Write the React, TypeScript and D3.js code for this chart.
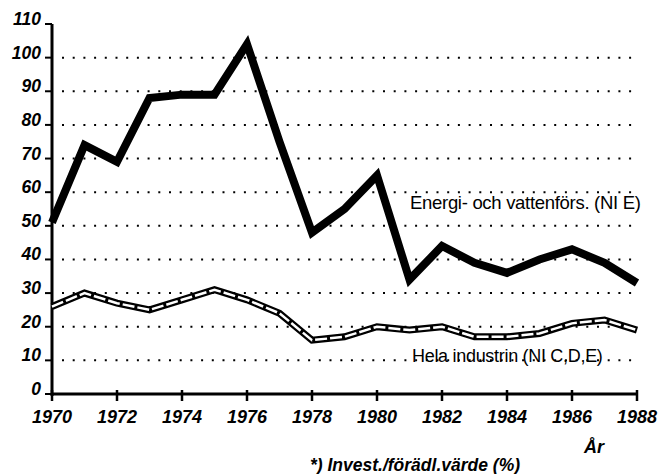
import React from "react";
import * as d3 from "d3";

const years = [1970, 1971, 1972, 1973, 1974, 1975, 1976, 1977, 1978, 1979, 1980, 1981, 1982, 1983, 1984, 1985, 1986, 1987, 1988];
const energi = [51, 74, 69, 88, 89, 89, 104, 75, 48, 55, 65, 34, 44, 39, 36, 40, 43, 39, 33];
const hela = [26, 30, 27, 25, 28, 31, 28, 24, 16, 17, 20, 19, 20, 17, 17, 18, 21, 22, 19];
const yTicks = [0, 10, 20, 30, 40, 50, 60, 70, 80, 90, 100, 110];
const xTicks = [1970, 1972, 1974, 1976, 1978, 1980, 1982, 1984, 1986, 1988];
const gridValues = [10, 20, 30, 40, 50, 60, 70, 80, 90, 100];

const App = () => {
  const width = 662;
  const height = 474;
  const x = d3.scaleLinear().domain([1970, 1988]).range([52, 637]);
  const y = d3.scaleLinear().domain([0, 110]).range([394, 24]);
  const font = "'Liberation Sans', Arial, sans-serif";

  const line = d3
    .line<number>()
    .x((_, i) => x(years[i]))
    .y((d) => y(d));

  return (
    <svg width={width} height={height} style={{ position: "absolute", left: 0, top: 0 }}>
      <rect width={width} height={height} fill="#fff" />
      {gridValues.map((v) => (
        <line
          key={"g" + v}
          x1={62}
          x2={634}
          y1={y(v)}
          y2={y(v)}
          stroke="#000"
          strokeWidth={2}
          strokeDasharray="2 8.7"
        />
      ))}
      {/* axes */}
      <line x1={52} x2={52} y1={y(110)} y2={y(0) + 2} stroke="#000" strokeWidth={3} />
      <line x1={51} x2={638} y1={y(0)} y2={y(0)} stroke="#000" strokeWidth={3} />
      {yTicks.map((v) => (
        <g key={"y" + v}>
          <line x1={45} x2={52} y1={y(v)} y2={y(v)} stroke="#000" strokeWidth={2} />
          <text
            x={41}
            y={y(v) + 1}
            textAnchor="end"
            fontFamily={font}
            fontWeight="bold"
            fontStyle="italic"
            fontSize={17.5}
          >
            {v}
          </text>
        </g>
      ))}
      {xTicks.map((t) => (
        <g key={"x" + t}>
          <line x1={x(t)} x2={x(t)} y1={y(0) - 4} y2={y(0) + 7} stroke="#000" strokeWidth={2.5} />
          <text
            x={x(t)}
            y={423}
            textAnchor="middle"
            fontFamily={font}
            fontWeight="bold"
            fontStyle="italic"
            fontSize={18}
          >
            {t}
          </text>
        </g>
      ))}
      {/* Hela industrin: outlined double line */}
      <path d={line(hela) ?? ""} fill="none" stroke="#000" strokeWidth={7} strokeLinejoin="miter" />
      <path d={line(hela) ?? ""} fill="none" stroke="#fff" strokeWidth={2.5} strokeDasharray="12 3" />
      {/* Energi- och vattenförs. */}
      <path d={line(energi) ?? ""} fill="none" stroke="#000" strokeWidth={8} strokeLinejoin="miter" />
      <text x={410} y={209} fontFamily={font} fontSize={18.5} letterSpacing={-0.3}>
        Energi- och vattenförs. (NI E)
      </text>
      <text x={412} y={362} fontFamily={font} fontSize={18} letterSpacing={-0.3}>
        Hela industrin (NI C,D,E)
      </text>
      <text
        x={594}
        y={453}
        textAnchor="middle"
        fontFamily={font}
        fontWeight="bold"
        fontStyle="italic"
        fontSize={18}
      >
        År
      </text>
      <text
        x={415}
        y={471}
        textAnchor="middle"
        fontFamily={font}
        fontWeight="bold"
        fontStyle="italic"
        fontSize={17.5}
      >
        *) Invest./förädl.värde (%)
      </text>
    </svg>
  );
};

export default App;
